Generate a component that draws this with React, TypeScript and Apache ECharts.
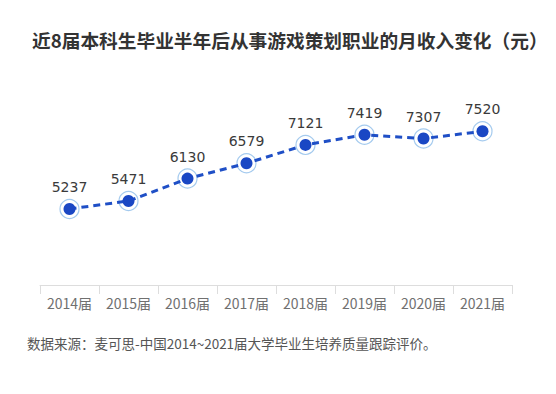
import React, { useEffect, useRef } from "react";
import * as echarts from "echarts";

const categories = ["2014届", "2015届", "2016届", "2017届", "2018届", "2019届", "2020届", "2021届"];
const incomeValues = [5237, 5471, 6130, 6579, 7121, 7419, 7307, 7520];
const titleText = "近8届本科生毕业半年后从事游戏策划职业的月收入变化（元）";
const sourceText = "数据来源：麦可思-中国2014~2021届大学毕业生培养质量跟踪评价。";

const FONT = "'Noto Sans CJK SC', 'Noto Sans', sans-serif";

export default function App() {
  const ref = useRef<HTMLDivElement>(null);
  useEffect(() => {
    document.body.style.margin = "0";
    if (!ref.current) return;
    const chart = echarts.init(ref.current, undefined, { renderer: "svg" });
    chart.setOption({
      animation: false,
      backgroundColor: "#ffffff",
      textStyle: { fontFamily: FONT },
      title: {
        text: titleText,
        left: 27,
        top: 25,
        textStyle: { fontSize: 18.7, fontWeight: "bold", color: "#333333", fontFamily: FONT },
      },
      graphic: [
        {
          type: "text",
          left: 27,
          top: 336,
          style: { text: sourceText, fontSize: 13.5, fill: "#555555", fontFamily: FONT },
        },
      ],
      grid: { left: 40, right: 44, top: 115, bottom: 109 },
      xAxis: {
        type: "category",
        data: categories,
        boundaryGap: true,
        axisLine: { lineStyle: { color: "#dddddd" } },
        axisTick: { show: true, length: 9, lineStyle: { color: "#dddddd" } },
        axisLabel: { color: "#707070", fontSize: 14, margin: 11, fontFamily: FONT },
      },
      yAxis: {
        type: "value",
        min: 3000,
        max: 8000,
        show: false,
        splitLine: { show: false },
      },
      series: [
        {
          type: "line",
          data: incomeValues,
          symbol: "circle",
          symbolSize: 12,
          lineStyle: { color: "#1f4fc6", width: 3, type: [7, 5] },
          itemStyle: { color: "#1a47c4" },
          label: {
            show: true,
            position: "top",
            distance: 9,
            color: "#3a3a3a",
            fontSize: 14,
            fontFamily: "'DejaVu Sans', sans-serif",
          },
          z: 3,
        },
        {
          type: "scatter",
          data: incomeValues,
          symbol: "circle",
          symbolSize: 19,
          itemStyle: { color: "rgba(255,255,255,0)", borderColor: "#8dbdea", borderWidth: 1.2 },
          silent: true,
          z: 2,
        },
      ],
    });
    return () => chart.dispose();
  }, []);
  return <div ref={ref} style={{ width: 556, height: 394 }} />;
}
